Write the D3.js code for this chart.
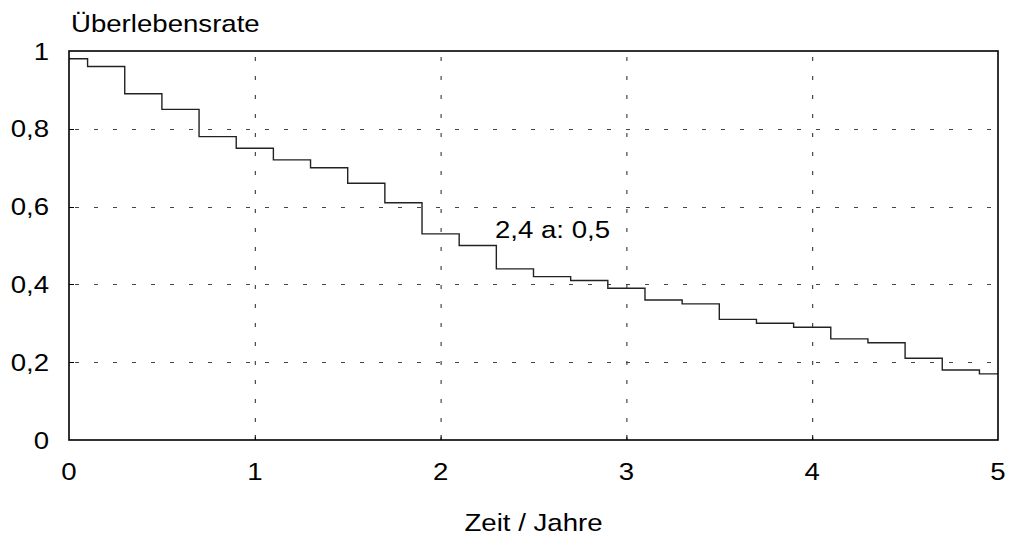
<!DOCTYPE html>
<html>
<head>
<meta charset="utf-8">
<script src="https://cdn.jsdelivr.net/npm/d3@7"></script>
<style>
  html, body { margin: 0; padding: 0; background: #fff; }
  svg { display: block; }
  text { font-family: "Liberation Sans", Arial, Helvetica, sans-serif; fill: #000; }
</style>
</head>
<body>
<svg id="chart" width="1011" height="537"></svg>
<script>
// Kaplan-Meier style survival curve: step start times (years) and survival rate from each step on
const stepTimes = [0, 0.1, 0.3, 0.5, 0.7, 0.9, 1.1, 1.3, 1.5, 1.7, 1.9, 2.1, 2.3,
                   2.5, 2.7, 2.9, 3.1, 3.3, 3.5, 3.7, 3.9, 4.1, 4.3, 4.5, 4.7, 4.9];
const survival  = [0.98, 0.96, 0.89, 0.85, 0.78, 0.75, 0.72, 0.70, 0.66, 0.61, 0.53, 0.50, 0.44,
                   0.42, 0.41, 0.39, 0.36, 0.35, 0.31, 0.30, 0.29, 0.26, 0.25, 0.21, 0.18, 0.17];
const endTime = 5;

const xTicks = [0, 1, 2, 3, 4, 5];
const yTicks = [0, 0.2, 0.4, 0.6, 0.8, 1];
const xTickLabels = ["0", "1", "2", "3", "4", "5"];
const yTickLabels = ["0", "0,2", "0,4", "0,6", "0,8", "1"];

const yTitle = "Überlebensrate";
const xTitle = "Zeit / Jahre";
const annotation = { time: 2.4, value: 0.5, text: "2,4 a: 0,5" };

const svg = d3.select("#chart");
const plotLeft = 69, plotRight = 998, plotTop = 51, plotBottom = 440;
const fontSize = 24, widen = 1.15;

const x = d3.scaleLinear().domain([0, 5]).range([plotLeft, plotRight]);
const y = d3.scaleLinear().domain([0, 1]).range([plotBottom, plotTop]);

// text in a slightly wide sans face, anchored at (tx, ty)
function label(parent, tx, ty, str, anchor) {
  return parent.append("text")
    .attr("transform", `translate(${tx},${ty}) scale(${widen},1)`)
    .attr("text-anchor", anchor || "start")
    .attr("font-size", fontSize)
    .text(str);
}

// dashed grid
const grid = svg.append("g");
grid.selectAll("line.vg").data(xTicks.slice(1, -1)).join("line")
  .attr("x1", d => x(d) + 0.5).attr("x2", d => x(d) + 0.5)
  .attr("y1", plotTop).attr("y2", plotBottom)
  .attr("stroke", "#222").attr("stroke-width", 1)
  .attr("stroke-dasharray", "4,15").attr("stroke-dashoffset", -6);
grid.selectAll("line.hg").data(yTicks.slice(1, -1)).join("line")
  .attr("x1", plotLeft).attr("x2", plotRight)
  .attr("y1", d => Math.round(y(d)) + 0.5).attr("y2", d => Math.round(y(d)) + 0.5)
  .attr("stroke", "#444").attr("stroke-width", 1)
  .attr("stroke-dasharray", "4,15").attr("stroke-dashoffset", -6);

// short inward ticks on the bottom and left axes
svg.append("g").selectAll("line").data(xTicks.slice(1, -1)).join("line")
  .attr("x1", d => x(d) + 0.5).attr("x2", d => x(d) + 0.5)
  .attr("y1", plotBottom).attr("y2", plotBottom - 5)
  .attr("stroke", "#000");
svg.append("g").selectAll("line").data(yTicks.slice(1, -1)).join("line")
  .attr("x1", plotLeft).attr("x2", plotLeft + 5)
  .attr("y1", d => Math.round(y(d)) + 0.5).attr("y2", d => Math.round(y(d)) + 0.5)
  .attr("stroke", "#000");

// survival step line
const pts = stepTimes.map((t, i) => [t, survival[i]]);
pts.push([endTime, survival[survival.length - 1]]);
const line = d3.line().x(d => x(d[0])).y(d => y(d[1])).curve(d3.curveStepAfter);
svg.append("path")
  .attr("d", line(pts))
  .attr("fill", "none")
  .attr("stroke", "#222")
  .attr("stroke-width", 1.4);

// frame
svg.append("rect")
  .attr("x", plotLeft).attr("y", plotTop)
  .attr("width", plotRight - plotLeft).attr("height", plotBottom - plotTop)
  .attr("fill", "none").attr("stroke", "#000").attr("stroke-width", 1.6);

// tick labels
const xl = svg.append("g");
xTicks.forEach((d, i) => label(xl, x(d), 480, xTickLabels[i], "middle"));
const yl = svg.append("g");
yTicks.forEach((d, i) => label(yl, 49, y(d) + 8.5, yTickLabels[i], "end"));

// titles
label(svg, 71, 32, yTitle);
label(svg, (plotLeft + plotRight) / 2, 531, xTitle, "middle");

// annotation
label(svg, x(annotation.time) - 20, y(annotation.value) - 8, annotation.text);
</script>
</body>
</html>
